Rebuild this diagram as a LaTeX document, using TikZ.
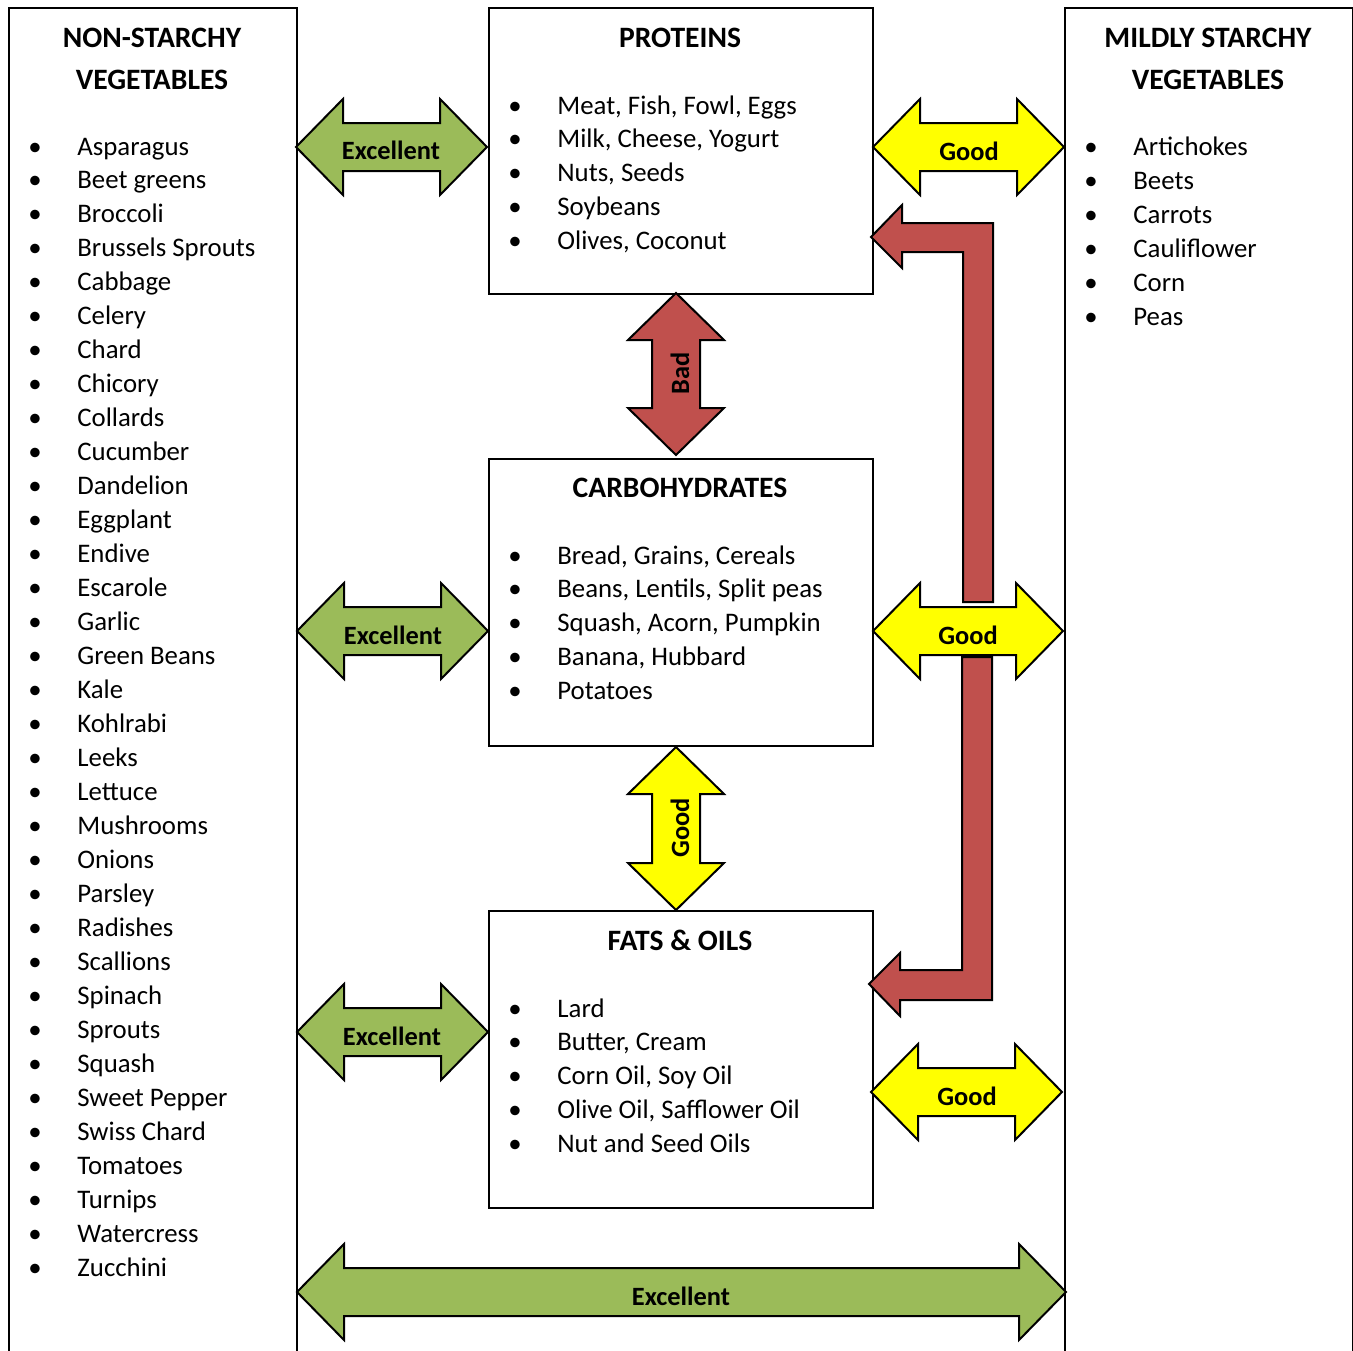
\documentclass[tikz,border=0pt]{standalone}
\usepackage{fontspec}
\setmainfont{Carlito}
\usetikzlibrary{positioning}

\definecolor{excgreen}{HTML}{9BBB59}
\definecolor{goodyellow}{HTML}{FFFF00}
\definecolor{badred}{HTML}{C0504D}

\tikzset{
  box/.style={draw, line width=1pt, inner sep=0pt, anchor=north west},
  blockarrow/.style={draw=black, line width=1pt, line join=miter},
  heading/.style={font=\fontsize{14.8}{17}\selectfont\bfseries, anchor=base},
  item/.style={font=\fontsize{13.4}{17}\selectfont, anchor=base west, inner sep=0pt},
  bulletmark/.style={font=\fontsize{13.4}{17}\selectfont, anchor=base, inner sep=0pt},
  arrowlabel/.style={font=\fontsize{13.2}{15}\selectfont\bfseries, anchor=base, inner sep=0pt},
}

% horizontal double block arrow: x1, x2, y centre, fill
\newcommand{\hblock}[4]{%
  \filldraw[blockarrow, fill=#4] (#1,#3) -- ({#1+47},{#3-48}) -- ({#1+47},{#3-24})
    -- ({#2-47},{#3-24}) -- ({#2-47},{#3-48}) -- (#2,#3) -- ({#2-47},{#3+48})
    -- ({#2-47},{#3+24}) -- ({#1+47},{#3+24}) -- ({#1+47},{#3+48}) -- cycle;}
% vertical double block arrow: x centre, y1, y2, fill
\newcommand{\vblock}[4]{%
  \filldraw[blockarrow, fill=#4] (#1,#2) -- ({#1+48},{#2+47}) -- ({#1+24},{#2+47})
    -- ({#1+24},{#3-47}) -- ({#1+48},{#3-47}) -- (#1,#3) -- ({#1-48},{#3-47})
    -- ({#1-24},{#3-47}) -- ({#1-24},{#2+47}) -- ({#1-48},{#2+47}) -- cycle;}

\begin{document}
\begin{tikzpicture}[x=0.5pt,y=-0.5pt]
  \useasboundingbox[fill=white] (0,0) rectangle (1353,1350);

  % boxes
  \node[box, minimum width=144pt, minimum height=690pt] (nonstarchy) at (8,7) {};
  \node[box, minimum width=144pt, minimum height=690pt] (mildly) at (1064,7) {};
  \node[box, minimum width=192pt, minimum height=143pt] (prot) at (488,7) {};
  \node[box, minimum width=192pt, minimum height=143.5pt] (carb) at (488,458) {};
  \node[box, minimum width=192pt, minimum height=148.5pt] (fats) at (488,910) {};

  % headings
  \node[heading] (nsh1) at (152,47) {NON-STARCHY};
  \node[heading] (nsh2) at (152,89) {VEGETABLES};
  \node[heading] (msh1) at (1208,47) {MILDLY STARCHY};
  \node[heading] (msh2) at (1208,89) {VEGETABLES};
  \node[heading] (proth) at (680,47) {PROTEINS};
  \node[heading] (carbh) at (680,497) {CARBOHYDRATES};
  \node[heading] (fatsh) at (680,950) {FATS \& OILS};

  % lists
  \foreach \veg [count=\i from 0] in {Asparagus, Beet greens, Broccoli,
      Brussels Sprouts, Cabbage, Celery, Chard, Chicory, Collards, Cucumber,
      Dandelion, Eggplant, Endive, Escarole, Garlic, Green Beans, Kale,
      Kohlrabi, Leeks, Lettuce, Mushrooms, Onions, Parsley, Radishes,
      Scallions, Spinach, Sprouts, Squash, Sweet Pepper, Swiss Chard,
      Tomatoes, Turnips, Watercress, Zucchini}{
    \node[bulletmark] (nsb\i) at (35,{155+33.97*\i}) {\textbullet};
    \node[item] (ns\i) at (77,{155+33.97*\i}) {\veg};
  }
  \foreach \veg [count=\i from 0] in {Artichokes, Beets, Carrots,
      Cauliflower, Corn, Peas}{
    \node[bulletmark] (msb\i) at (1091,{155+34*\i}) {\textbullet};
    \node[item] (ms\i) at (1133,{155+34*\i}) {\veg};
  }
  \foreach \food [count=\i from 0] in {{Meat, Fish, Fowl, Eggs},
      {Milk, Cheese, Yogurt}, {Nuts, Seeds}, Soybeans, {Olives, Coconut}}{
    \node[bulletmark] (protb\i) at (515,{114+33.75*\i}) {\textbullet};
    \node[item] (prot\i) at (557,{114+33.75*\i}) {\food};
  }
  \foreach \food [count=\i from 0] in {{Bread, Grains, Cereals},
      {Beans, Lentils, Split peas}, {Squash, Acorn, Pumpkin},
      {Banana, Hubbard}, Potatoes}{
    \node[bulletmark] (carbb\i) at (515,{564+33.75*\i}) {\textbullet};
    \node[item] (carb\i) at (557,{564+33.75*\i}) {\food};
  }
  \foreach \food [count=\i from 0] in {Lard, {Butter, Cream},
      {Corn Oil, Soy Oil}, {Olive Oil, Safflower Oil}, Nut and Seed Oils}{
    \node[bulletmark] (fatsb\i) at (515,{1017+33.75*\i}) {\textbullet};
    \node[item] (fats\i) at (557,{1017+33.75*\i}) {\food};
  }

  % block arrows
  \hblock{296}{487}{147}{excgreen}
  \hblock{297}{488}{631}{excgreen}
  \hblock{297}{488}{1032}{excgreen}
  \hblock{297}{1066}{1292}{excgreen}
  \hblock{873}{1064}{147}{goodyellow}
  \vblock{676}{293}{455}{badred}
  \vblock{676}{747}{910}{goodyellow}
  % bent arrows, carbohydrates to proteins and fats
  \filldraw[blockarrow, fill=badred] (871,237) -- (902,205) -- (902,223)
    -- (993,223) -- (993,602) -- (963,602) -- (963,252) -- (902,252)
    -- (902,268) -- cycle;
  \filldraw[blockarrow, fill=badred] (869,984) -- (900,953) -- (900,970)
    -- (962,970) -- (962,657) -- (992,657) -- (992,1000) -- (900,1000)
    -- (900,1016) -- cycle;
  \hblock{873}{1063}{631}{goodyellow}
  \hblock{871}{1062}{1092}{goodyellow}

  % arrow labels
  \node[arrowlabel] (exc1) at (391,159) {Excellent};
  \node[arrowlabel] (exc2) at (393,644) {Excellent};
  \node[arrowlabel] (exc3) at (392,1045) {Excellent};
  \node[arrowlabel] (exc4) at (681,1305) {Excellent};
  \node[arrowlabel] (good1) at (969,160) {Good};
  \node[arrowlabel] (good2) at (968,644) {Good};
  \node[arrowlabel] (good3) at (967,1105) {Good};
  \node[arrowlabel, anchor=center, rotate=90] (bad) at (680,373) {Bad};
  \node[arrowlabel, anchor=center, rotate=90] (good4) at (680,828) {Good};
\end{tikzpicture}
\end{document}
